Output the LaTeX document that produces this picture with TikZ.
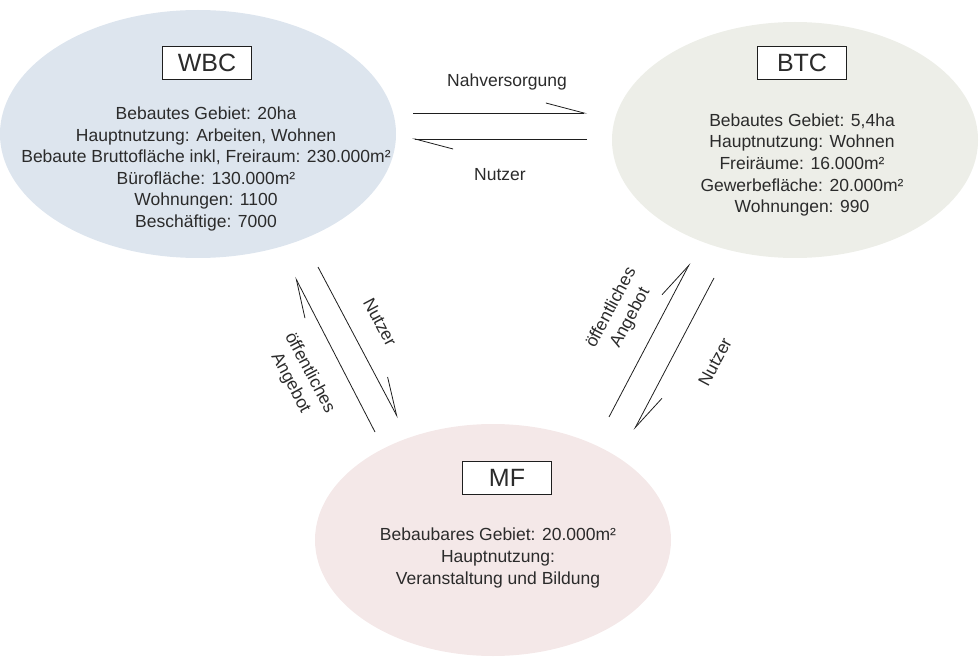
\documentclass[tikz,border=0pt]{standalone}
\usepackage{fontspec}
\setmainfont{Liberation Sans}
\usetikzlibrary{shapes.geometric,arrows.meta}
\definecolor{wbcfill}{HTML}{DDE5EE}
\definecolor{btcfill}{HTML}{EDEEE8}
\definecolor{mffill}{HTML}{F4E8E8}
\definecolor{txt}{HTML}{2B2B2B}
\definecolor{ln}{HTML}{1E1E1E}
\begin{document}
\begin{tikzpicture}[x=1pt,y=-1pt,
  blob/.style={ellipse, inner sep=0pt, draw=none},
  infotext/.style={align=center, text=txt, inner sep=0pt, font=\fontsize{17.5}{21.6}\selectfont},
  titlebox/.style={draw=ln, line width=0.9pt, fill=white, text=txt, minimum width=89pt, minimum height=33pt, inner sep=0pt, font=\fontsize{25}{28}\selectfont},
  flowlabel/.style={text=txt, align=center, inner sep=0pt, font=\fontsize{17.5}{21.6}\selectfont},
  flow/.style={draw=ln, line width=0.8pt, -{Straight Barb[left, length=38pt, width=20pt, line width=0.8pt]}}
]
\useasboundingbox (0,0) rectangle (980,663);
% ellipses
\node[blob, fill=wbcfill, minimum width=396pt, minimum height=248pt] (wbc) at (198,134) {};
\node[blob, fill=btcfill, minimum width=366pt, minimum height=236pt] (btc) at (795,140) {};
\node[blob, fill=mffill, minimum width=356pt, minimum height=232pt] (mf) at (493,540) {};
% title boxes
\node[titlebox] (wbct) at (207,63) {WBC};
\node[titlebox] (btct) at (802,63) {BTC};
\node[titlebox] (mft) at (507,478) {MF};
% info texts
\node[infotext] (wbci) at (206,169) {Bebautes Gebiet: 20ha\\Hauptnutzung: Arbeiten, Wohnen\\Bebaute Bruttofläche inkl, Freiraum: 230.000m²\\Bürofläche: 130.000m²\\Wohnungen: 1100\\Beschäftige: 7000};
\node[infotext] (btci) at (802,165) {Bebautes Gebiet: 5,4ha\\Hauptnutzung: Wohnen\\Freiräume: 16.000m²\\Gewerbefläche: 20.000m²\\Wohnungen: 990};
\node[infotext] (mfi) at (498,558) {Bebaubares Gebiet: 20.000m²\\Hauptnutzung:\\Veranstaltung und Bildung};
% connector end points
\coordinate (h1a) at (413,113); \coordinate (h1b) at (587,113);
\coordinate (h2a) at (587,139); \coordinate (h2b) at (412,139);
\coordinate (l1a) at (318,267); \coordinate (l1b) at (398,418);
\coordinate (l2a) at (375,432); \coordinate (l2b) at (295,277);
\coordinate (r1a) at (609,417); \coordinate (r1b) at (690,263);
\coordinate (r2a) at (714,278); \coordinate (r2b) at (634,430);
% connectors
\draw[flow] (h1a) -- (h1b);
\draw[flow] (h2a) -- (h2b);
\draw[flow] (l1a) -- (l1b);
\draw[flow] (l2a) -- (l2b);
\draw[flow] (r1a) -- (r1b);
\draw[flow] (r2a) -- (r2b);
% connector labels
\node[flowlabel] (lnah) at (507,82) {Nahversorgung};
\node[flowlabel] (lnut) at (500,175) {Nutzer};
\node[flowlabel, rotate=-62] (lnutl) at (380,322) {Nutzer};
\node[flowlabel, rotate=-62] (loffl) at (300,378) {öffentliches\\Angebot};
\node[flowlabel, rotate=62] (loffr) at (621,313) {öffentliches\\Angebot};
\node[flowlabel, rotate=62] (lnutr) at (715,362) {Nutzer};
\end{tikzpicture}
\end{document}
